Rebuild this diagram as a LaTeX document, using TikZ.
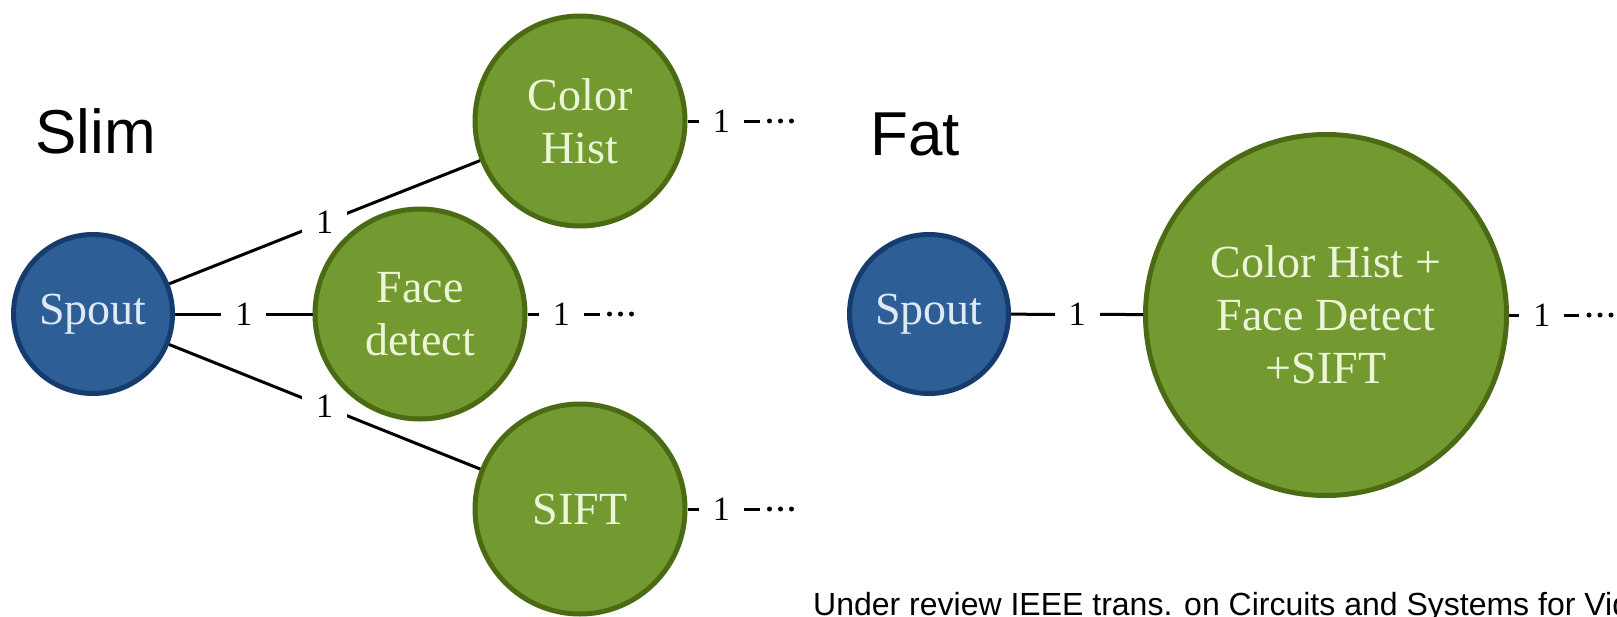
\documentclass[tikz,border=0pt]{standalone}
\usepackage{fontspec}
\setmainfont{Liberation Serif}
\newfontfamily\titlefont{Liberation Sans}
\definecolor{greenF}{RGB}{115,154,48}
\definecolor{greenB}{RGB}{74,106,20}
\definecolor{greenT}{RGB}{236,246,214}
\definecolor{blueF}{RGB}{46,94,150}
\definecolor{blueB}{RGB}{22,60,110}
\definecolor{blueT}{RGB}{222,233,244}
\begin{document}
\begin{tikzpicture}[x=1pt,y=-1pt,
  gnode/.style={circle, draw=greenB, fill=greenF, line width=5pt, text=greenT,
    font=\fontsize{46}{53}\selectfont, align=center, inner sep=0pt, minimum size=210pt},
  bnode/.style={circle, draw=blueB, fill=blueF, line width=5pt, text=blueT,
    font=\fontsize{46}{53}\selectfont, align=center, inner sep=0pt, minimum size=159pt},
  edge/.style={draw=black, line width=3pt},
  lbl/.style={fill=white, inner xsep=14pt, inner ysep=3pt, text=black,
    font=\fontsize{34}{34}\selectfont},
  dotrow/.style={draw=black, line width=5pt, line cap=round, dash pattern=on 0pt off 11pt},
  title/.style={font=\titlefont\fontsize{62}{62}\selectfont, anchor=base west, inner sep=0pt},
  caption/.style={font=\titlefont\fontsize{32}{32}\selectfont, anchor=base west, inner sep=0pt}]
\useasboundingbox (0,0) rectangle (1617,616);
\fill[white] (0,0) rectangle (1617,616);

% titles
\node[title] (slim) at (35,153) {Slim};
\node[title] (fattitle) at (870,155) {Fat};

% slim topology
\node[bnode] (spout1) at (93,314) {Spout};
\node[gnode] (ch) at (580,121) {Color\\Hist};
\node[gnode] (fd) at (420,314) {Face\\detect};
\node[gnode] (sift) at (580,509) {SIFT};

\draw[edge] (spout1) -- node[lbl]{1} (ch);
\draw[edge] (spout1) -- node[lbl]{1} (fd);
\draw[edge] (spout1) -- node[lbl]{1} (sift);

% fat topology
\node[bnode] (spout2) at (929,314) {Spout};
\node[gnode, minimum size=361pt] (fat) at (1326,315) {Color Hist +\\Face Detect\\+SIFT};
\draw[edge] (spout2) -- node[lbl]{1} (fat);

% outgoing stubs
\foreach \n/\L in {ch/72, fd/72, sift/72, fat/70} {
  \coordinate (\n-o) at ([xshift=\L]\n.east);
  \coordinate (\n-d) at ([xshift={\L+10}]\n.east);
  \coordinate (\n-e) at ([xshift={\L+32.1}]\n.east);
  \draw[edge] (\n.east) -- node[lbl, pos=0.47]{1} (\n-o);
  \draw[dotrow] (\n-d) -- (\n-e);
}

% caption
\node[caption] (cap) at (813,615) {Under review IEEE trans. on Circuits and Systems for Vid};
\end{tikzpicture}
\end{document}
